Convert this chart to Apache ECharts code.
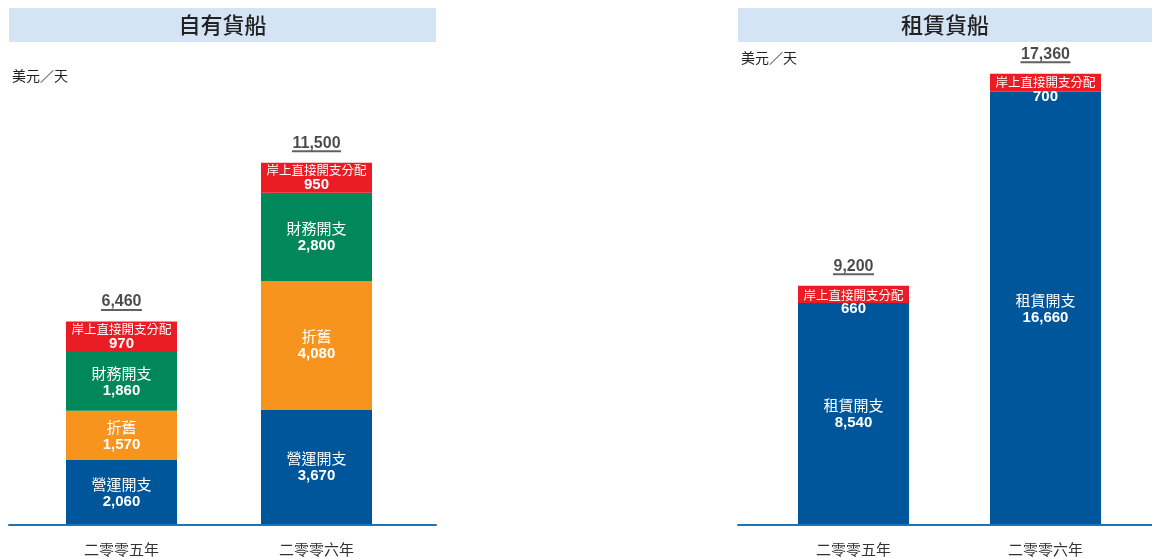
<!DOCTYPE html>
<html>
<head>
<meta charset="utf-8">
<script src="https://cdn.jsdelivr.net/npm/echarts@6/dist/echarts.min.js"></script>
<style>
  html, body { margin: 0; padding: 0; background: #ffffff; }
  #chart { width: 1152px; height: 559px; }
</style>
</head>
<body>
<div id="chart"></div>
<script>
// Years on the category axis
const years = ['二零零五年', '二零零六年'];

// 自有貨船: daily cost breakdown, US$ per day
const ownedOpex = [2060, 3670];          // 營運開支
const ownedDepreciation = [1570, 4080];  // 折舊
const ownedFinance = [1860, 2800];       // 財務開支
const ownedShore = [970, 950];           // 岸上直接開支分配

// 租賃貨船: daily cost breakdown, US$ per day
const charterHire = [8540, 16660];       // 租賃開支
const charterShore = [660, 700];         // 岸上直接開支分配

const panelTitles = ['自有貨船', '租賃貨船'];
const unitLabel = '美元／天';

const CJK = '"Noto Sans CJK TC", "Noto Sans CJK SC", sans-serif';
const NUM = '"Liberation Sans", Arial, sans-serif';
const COLORS = { blue: '#00569a', orange: '#f7941e', green: '#00885a', red: '#ec1c24' };

const fmt = v => Number(v).toLocaleString('en-US');
const sumOf = arrays => arrays[0].map((_, i) => arrays.reduce((s, a) => s + a[i], 0));

const measureCtx = document.createElement('canvas').getContext('2d');
function textWidth(str, font) {
  measureCtx.font = font;
  return Math.round(measureCtx.measureText(str).width);
}

// One stacked segment with a two-line label (name + value)
function segment(name, data, color, axis, opts) {
  const o = Object.assign({ nameSize: 15, nameLH: 18, valSize: 15, valLH: 17, position: 'inside', distance: 5 }, opts || {});
  return {
    type: 'bar',
    name: name,
    data: data,
    xAxisIndex: axis,
    yAxisIndex: axis,
    stack: 'cost' + axis,
    barWidth: 111,
    itemStyle: { color: color },
    label: {
      show: true,
      position: o.position,
      distance: o.distance,
      formatter: p => '{n|' + name + '}\n{v|' + fmt(p.value) + '}',
      rich: {
        n: { fontFamily: CJK, fontSize: o.nameSize, lineHeight: o.nameLH, color: '#ffffff', align: 'center' },
        v: { fontFamily: NUM, fontWeight: 'bold', fontSize: o.valSize, lineHeight: o.valLH, color: '#ffffff', align: 'center' }
      }
    },
    emphasis: { disabled: true }
  };
}

// Underline bars of several widths for the totals
const underlineStyles = {};
for (let w = 20; w <= 80; w++) {
  underlineStyles['u' + w] = { width: w, height: 2, lineHeight: 2, fontSize: 1, backgroundColor: '#3a3a3a', align: 'center' };
}

// Underlined total above each stack
function totals(data, axis) {
  return {
    type: 'scatter',
    data: data,
    xAxisIndex: axis,
    yAxisIndex: axis,
    symbolSize: 1,
    itemStyle: { color: 'rgba(0,0,0,0)' },
    z: 5,
    label: {
      show: true,
      position: 'top',
      distance: 10,
      formatter: p => {
        const s = fmt(p.value);
        const w = textWidth(s, 'bold 16px ' + NUM) + 1;
        return '{t|' + s + '}\n{u' + w + '| }';
      },
      rich: Object.assign({
        t: { fontFamily: NUM, fontWeight: 'bold', fontSize: 16, lineHeight: 14, color: '#1e1e1e', align: 'center' }
      }, underlineStyles)
    },
    emphasis: { disabled: true }
  };
}

const chart = echarts.init(document.getElementById('chart'), null, { renderer: 'canvas' });

const barGrids = [
  { left: 24, width: 390, top: 84, bottom: 34 },
  { left: 757.5, width: 384, top: 57, bottom: 34 }
];
const baseGrids = [
  { left: 9, width: 427, top: 500, bottom: 34 },
  { left: 738, width: 414, top: 500, bottom: 34 }
];

function categoryAxis(gridIndex) {
  return {
    type: 'category',
    gridIndex: gridIndex,
    data: years,
    axisLine: { show: false },
    axisTick: { show: false },
    axisLabel: { margin: 17, fontFamily: CJK, fontSize: 15, color: '#333333' }
  };
}
function baselineAxis(gridIndex) {
  return {
    type: 'category',
    gridIndex: gridIndex,
    data: [''],
    z: 10,
    axisLine: { show: true, lineStyle: { color: '#1b75bc', width: 2 } },
    axisTick: { show: false },
    axisLabel: { show: false }
  };
}
function hiddenValueAxis(gridIndex, max) {
  return { type: 'value', gridIndex: gridIndex, min: 0, max: max, show: false };
}

const ownedTotals = sumOf([ownedOpex, ownedDepreciation, ownedFinance, ownedShore]);
const charterTotals = sumOf([charterHire, charterShore]);

function band(x, w, title) {
  return {
    type: 'group',
    children: [
      { type: 'rect', shape: { x: x, y: 8, width: w, height: 34 }, style: { fill: '#d4e4f4' }, silent: true },
      { type: 'text', x: x + w / 2, y: 25, style: { text: title, font: '500 22px ' + CJK, fill: '#222222', textAlign: 'center', textVerticalAlign: 'middle' }, silent: true }
    ]
  };
}

chart.setOption({
  animation: false,
  backgroundColor: '#ffffff',
  grid: [barGrids[0], baseGrids[0], barGrids[1], baseGrids[1]],
  xAxis: [categoryAxis(0), baselineAxis(1), categoryAxis(2), baselineAxis(3)],
  yAxis: [hiddenValueAxis(0, 14000), hiddenValueAxis(1, 1), hiddenValueAxis(2, 18000), hiddenValueAxis(3, 1)],
  graphic: [
    band(9, 427, panelTitles[0]),
    band(738, 414, panelTitles[1]),
    { type: 'text', x: 12, y: 76, style: { text: unitLabel, font: '14px ' + CJK, fill: '#222222', textVerticalAlign: 'middle' }, silent: true },
    { type: 'text', x: 741, y: 58, style: { text: unitLabel, font: '14px ' + CJK, fill: '#222222', textVerticalAlign: 'middle' }, silent: true }
  ],
  series: [
    segment('營運開支', ownedOpex, COLORS.blue, 0),
    segment('折舊', ownedDepreciation, COLORS.orange, 0),
    segment('財務開支', ownedFinance, COLORS.green, 0),
    segment('岸上直接開支分配', ownedShore, COLORS.red, 0, { nameSize: 12.5, nameLH: 15, valSize: 15, valLH: 15 }),
    totals(ownedTotals, 0),
    segment('租賃開支', charterHire, COLORS.blue, 2),
    segment('岸上直接開支分配', charterShore, COLORS.red, 2, { nameSize: 12.5, nameLH: 14, valSize: 15, valLH: 14, position: 'insideTop', distance: 2 }),
    totals(charterTotals, 2)
  ]
});
</script>
</body>
</html>
